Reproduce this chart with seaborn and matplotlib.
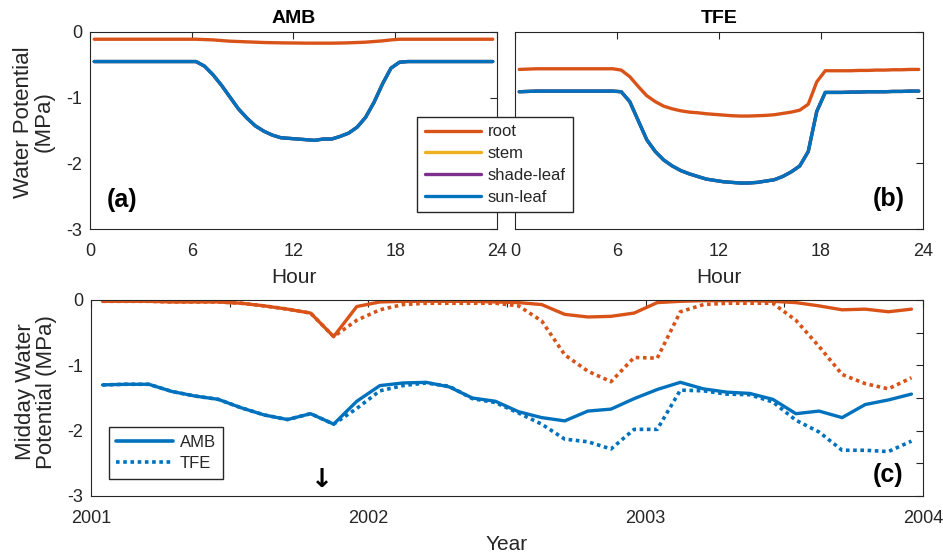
import numpy as np
import pandas as pd
import matplotlib
matplotlib.use("Agg")
import matplotlib.pyplot as plt
from matplotlib.lines import Line2D
import seaborn as sns

# ---------------- data ----------------
# half-hourly diurnal cycle (hour of day)
hours = np.arange(0.25, 24.0, 0.5)

root_amb = [-0.11, -0.11, -0.11, -0.11, -0.11, -0.11, -0.11, -0.11, -0.11, -0.11, -0.11, -0.11,
            -0.11, -0.115, -0.12, -0.13, -0.14, -0.145, -0.15, -0.155, -0.16, -0.163, -0.165, -0.167,
            -0.168, -0.17, -0.17, -0.17, -0.17, -0.168, -0.165, -0.16, -0.155, -0.145, -0.135, -0.12,
            -0.11, -0.11, -0.11, -0.11, -0.11, -0.11, -0.11, -0.11, -0.11, -0.11, -0.11, -0.11]
leaf_amb = [-0.45, -0.45, -0.45, -0.45, -0.45, -0.45, -0.45, -0.45, -0.45, -0.45, -0.45, -0.45,
            -0.45, -0.52, -0.65, -0.81, -0.99, -1.17, -1.31, -1.43, -1.51, -1.57, -1.61, -1.62,
            -1.63, -1.64, -1.65, -1.63, -1.63, -1.59, -1.54, -1.45, -1.30, -1.07, -0.79, -0.55,
            -0.46, -0.45, -0.45, -0.45, -0.45, -0.45, -0.45, -0.45, -0.45, -0.45, -0.45, -0.45]
root_tfe = [-0.57, -0.565, -0.56, -0.56, -0.56, -0.56, -0.56, -0.56, -0.56, -0.56, -0.56, -0.56,
            -0.58, -0.68, -0.83, -0.97, -1.06, -1.13, -1.17, -1.20, -1.22, -1.23, -1.245, -1.255,
            -1.265, -1.275, -1.28, -1.28, -1.275, -1.27, -1.26, -1.24, -1.22, -1.19, -1.10, -0.76,
            -0.59, -0.59, -0.59, -0.59, -0.585, -0.585, -0.58, -0.58, -0.575, -0.575, -0.57, -0.57]
leaf_tfe = [-0.91, -0.905, -0.90, -0.90, -0.90, -0.90, -0.90, -0.90, -0.90, -0.90, -0.90, -0.90,
            -0.91, -1.06, -1.35, -1.64, -1.82, -1.95, -2.04, -2.11, -2.16, -2.20, -2.24, -2.26,
            -2.28, -2.29, -2.30, -2.30, -2.29, -2.27, -2.25, -2.20, -2.13, -2.04, -1.82, -1.21,
            -0.92, -0.92, -0.92, -0.915, -0.915, -0.91, -0.91, -0.91, -0.905, -0.905, -0.90, -0.90]

# stem and both leaf classes coincide at this scale
stem_amb, shade_amb, sun_amb = leaf_amb, leaf_amb, leaf_amb
stem_tfe, shade_tfe, sun_tfe = leaf_tfe, leaf_tfe, leaf_tfe

# monthly midday values, Jan 2001 - Dec 2003 (mid-month)
months = 2001 + (np.arange(36) + 0.5) / 12

mid_root_amb = [-0.02, -0.02, -0.02, -0.03, -0.03, -0.03, -0.05, -0.09, -0.14, -0.20, -0.56, -0.10,
                -0.03, -0.02, -0.02, -0.02, -0.02, -0.03, -0.04, -0.07, -0.22, -0.26, -0.25, -0.20,
                -0.04, -0.02, -0.01, -0.01, -0.01, -0.02, -0.04, -0.09, -0.15, -0.14, -0.18, -0.14]
mid_root_tfe = [-0.02, -0.02, -0.02, -0.03, -0.03, -0.03, -0.05, -0.09, -0.14, -0.20, -0.56, -0.31,
                -0.15, -0.07, -0.05, -0.05, -0.05, -0.05, -0.09, -0.32, -0.84, -1.09, -1.25, -0.88,
                -0.89, -0.18, -0.07, -0.05, -0.05, -0.05, -0.31, -0.71, -1.14, -1.28, -1.36, -1.19]
mid_leaf_amb = [-1.30, -1.29, -1.29, -1.40, -1.47, -1.52, -1.65, -1.76, -1.83, -1.74, -1.90, -1.55,
                -1.31, -1.27, -1.26, -1.33, -1.50, -1.55, -1.71, -1.80, -1.85, -1.70, -1.67, -1.51,
                -1.37, -1.26, -1.36, -1.41, -1.43, -1.52, -1.74, -1.70, -1.80, -1.60, -1.53, -1.44]
mid_leaf_tfe = [-1.30, -1.29, -1.29, -1.40, -1.47, -1.52, -1.65, -1.76, -1.83, -1.74, -1.90, -1.66,
                -1.39, -1.31, -1.27, -1.32, -1.51, -1.57, -1.73, -1.90, -2.13, -2.17, -2.28, -1.98,
                -1.98, -1.38, -1.39, -1.44, -1.45, -1.56, -1.84, -2.02, -2.30, -2.30, -2.32, -2.16]

organs = ["root", "stem", "shade-leaf", "sun-leaf"]
organ_colors = ["#D95319", "#EDB120", "#7E2F8E", "#0072BD"]

# ---------------- style ----------------
sns.set_style("white")
plt.rcParams["font.family"] = ["Liberation Sans", "DejaVu Sans"]
plt.rcParams["axes.unicode_minus"] = False
INK = "#262626"

fig = plt.figure(figsize=(9.43, 5.57), dpi=100)
ax_a = fig.add_axes([90 / 943, 1 - 229 / 557, 407 / 943, 197 / 557])
ax_b = fig.add_axes([515 / 943, 1 - 229 / 557, 408 / 943, 197 / 557])
ax_c = fig.add_axes([91 / 943, 1 - 496 / 557, 832 / 943, 196 / 557])


def style_axes(ax):
    for sp in ax.spines.values():
        sp.set_visible(True)
        sp.set_color(INK)
        sp.set_linewidth(0.8)
    ax.tick_params(direction="in", top=True, right=True, length=5, width=0.8,
                   colors=INK, labelsize=13, labelcolor=INK)
    ax.tick_params(axis="x", pad=10)
    ax.tick_params(axis="y", pad=5.7)


def draw(ax, x, y, color, **kw):
    sns.lineplot(x=x, y=y, ax=ax, color=color, sort=False, estimator=None, **kw)
    if ax.get_legend() is not None:
        ax.get_legend().remove()


# ---- diurnal panels ----
for ax, series, title in [
    (ax_a, [root_amb, stem_amb, shade_amb, sun_amb], "AMB"),
    (ax_b, [root_tfe, stem_tfe, shade_tfe, sun_tfe], "TFE"),
]:
    for vals, col in zip(series, organ_colors):
        draw(ax, hours, vals, col, linewidth=2.4)
    style_axes(ax)
    ax.set_xlim(0, 24)
    ax.set_ylim(-3, 0)
    ax.set_xticks([0, 6, 12, 18, 24])
    ax.set_yticks([0, -1, -2, -3])
    ax.set_xlabel("Hour", fontsize=15, color=INK, labelpad=5.5)
    ax.set_ylabel("")
    ax.set_title(title, fontsize=14, fontweight="bold", color="black", pad=6.5)

ax_a.set_yticklabels(["0", "-1", "-2", "-3"])
ax_b.set_yticklabels([])
ax_a.set_ylabel("Water Potential\n(MPa)", fontsize=16, color=INK, linespacing=1.0)
ax_a.yaxis.set_label_coords(-0.086, 0.543)

ax_a.text(0.041, 0.147, "(a)", transform=ax_a.transAxes, fontsize=18,
          fontweight="bold", ha="left", va="center", color="black")
ax_b.text(0.956, 0.152, "(b)", transform=ax_b.transAxes, fontsize=18,
          fontweight="bold", ha="right", va="center", color="black")

organ_handles = [Line2D([], [], color=c, lw=2.4) for c in organ_colors]
fig.legend(organ_handles, organs, loc="upper left",
           bbox_to_anchor=(417 / 943, 1 - 117 / 557), borderaxespad=0, fontsize=12,
           frameon=True, fancybox=False, framealpha=1, edgecolor=INK,
           handlelength=3.4, labelspacing=0.4, borderpad=0.45, handletextpad=0.4)

# ---- monthly midday panel ----
dotted = (0, (1, 1))
draw(ax_c, months, mid_root_tfe, organ_colors[0], linewidth=2.6, linestyle=dotted)
draw(ax_c, months, mid_leaf_tfe, organ_colors[3], linewidth=2.6, linestyle=dotted)
draw(ax_c, months, mid_root_amb, organ_colors[0], linewidth=2.4)
draw(ax_c, months, mid_leaf_amb, organ_colors[3], linewidth=2.4)
style_axes(ax_c)
ax_c.set_xlim(2001, 2004)
ax_c.set_ylim(-3, 0)
ax_c.set_xticks(np.arange(2001, 2004.01, 0.5))
ax_c.set_xticklabels(["2001", "", "2002", "", "2003", "", "2004"])
ax_c.set_yticks(np.arange(0, -3.01, -0.5))
ax_c.set_yticklabels(["0", "", "-1", "", "-2", "", "-3"])
ax_c.set_xlabel("Year", fontsize=15, color=INK, labelpad=5.5)
ax_c.set_ylabel("Midday Water\nPotential (MPa)", fontsize=16, color=INK, linespacing=1.0)
ax_c.yaxis.set_label_coords(-0.041, 0.53)

ax_c.text(0.976, 0.107, "(c)", transform=ax_c.transAxes, fontsize=18,
          fontweight="bold", ha="right", va="center", color="black")
ax_c.text(2001.833, -2.76, "\u2193", fontsize=19, fontweight="bold",
          family="DejaVu Sans", ha="center", va="center", color="black")

trt_handles = [Line2D([], [], color=organ_colors[3], lw=2.6),
               Line2D([], [], color=organ_colors[3], lw=2.6, linestyle=dotted)]
ax_c.legend(trt_handles, ["AMB", "TFE"], loc="upper left",
            bbox_to_anchor=(0.0216, 0.352), borderaxespad=0, fontsize=12, frameon=True,
            fancybox=False, framealpha=1, edgecolor=INK, handlelength=3.4,
            labelspacing=0.4, borderpad=0.45, handletextpad=0.4)

fig.savefig("out.png", dpi=100)
